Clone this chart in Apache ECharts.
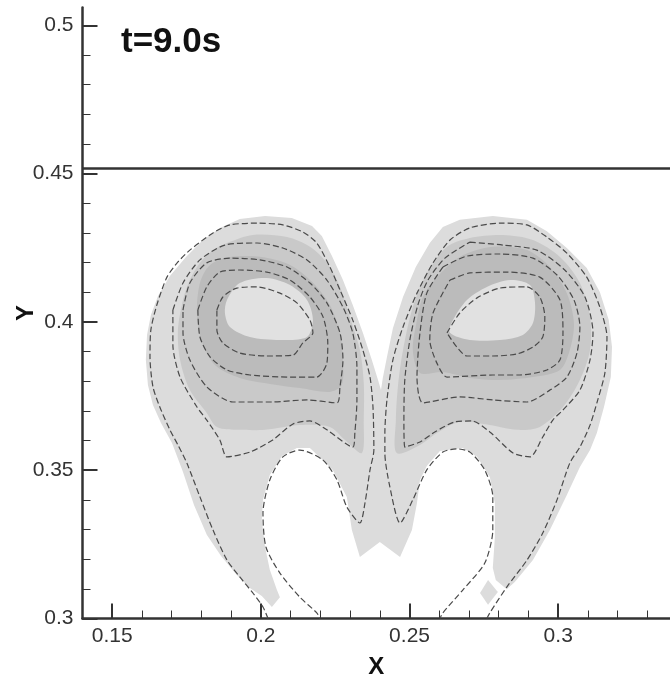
<!DOCTYPE html>
<html><head><meta charset="utf-8">
<script src="https://cdn.jsdelivr.net/npm/echarts@6/dist/echarts.min.js"></script>
<style>html,body{margin:0;padding:0;background:#fff}#c{width:670px;height:676px}</style>
</head><body><div id="c"></div>
<script>
// ---- axis ticks / labels ----
const xMajorTicks = [0.15, 0.2, 0.25, 0.3];
const xMinorTicks = [0.16,0.17,0.18,0.19,0.21,0.22,0.23,0.24,0.26,0.27,0.28,0.29,0.31,0.32,0.33];
const yMajorTicks = [0.3, 0.35, 0.4, 0.45, 0.5];
const yMinorTicks = [0.31,0.32,0.33,0.34,0.36,0.37,0.38,0.39,0.41,0.42,0.43,0.44,0.46,0.47,0.48,0.49];
const interfaceY = 0.4517;
const titleText = 't=9.0s';

// ---- filled contour regions (x, y) ----
const silhouette = [[0.2037,0.3039],[0.2003,0.3076],[0.1963,0.3103],[0.1919,0.3147],[0.1866,0.3211],[0.1818,0.3282],[0.1775,0.3383],[0.1738,0.3494],[0.1701,0.3592],[0.1664,0.3659],[0.1637,0.3720],[0.1620,0.3787],[0.1613,0.3872],[0.1617,0.3956],[0.1630,0.4023],[0.1654,0.4087],[0.1694,0.4155],[0.1748,0.4219],[0.1805,0.4276],[0.1862,0.4317],[0.1929,0.4347],[0.2014,0.4357],[0.2104,0.4350],[0.2172,0.4323],[0.2205,0.4290],[0.2239,0.4222],[0.2276,0.4141],[0.2309,0.4057],[0.2343,0.3963],[0.2373,0.3872],[0.2394,0.3804],[0.2404,0.3770],[0.2410,0.3811],[0.2424,0.3882],[0.2444,0.3979],[0.2478,0.4084],[0.2521,0.4185],[0.2568,0.4266],[0.2612,0.4320],[0.2669,0.4344],[0.2780,0.4357],[0.2895,0.4344],[0.2962,0.4306],[0.3029,0.4249],[0.3096,0.4182],[0.3140,0.4101],[0.3170,0.4006],[0.3181,0.3915],[0.3177,0.3814],[0.3154,0.3713],[0.3130,0.3625],[0.3107,0.3568],[0.3073,0.3511],[0.3029,0.3416],[0.2972,0.3298],[0.2915,0.3197],[0.2854,0.3123],[0.2827,0.3099],[0.2790,0.3130],[0.2780,0.3170],[0.2787,0.3275],[0.2787,0.3389],[0.2770,0.3477],[0.2727,0.3545],[0.2679,0.3575],[0.2602,0.3565],[0.2558,0.3514],[0.2535,0.3467],[0.2525,0.3389],[0.2508,0.3298],[0.2468,0.3207],[0.2400,0.3258],[0.2333,0.3207],[0.2306,0.3298],[0.2289,0.3410],[0.2242,0.3501],[0.2165,0.3575],[0.2121,0.3575],[0.2071,0.3548],[0.2030,0.3484],[0.2007,0.3400],[0.2003,0.3332],[0.2014,0.3241],[0.2030,0.3164],[0.2054,0.3096],[0.2064,0.3072]];
const diamond = [[0.2737,0.3086],[0.2764,0.3130],[0.2797,0.3089],[0.2764,0.3046]];
const mediumLeft = [[0.1839,0.4242],[0.1886,0.4266],[0.1973,0.4293],[0.2088,0.4286],[0.2165,0.4253],[0.2222,0.4199],[0.2266,0.4118],[0.2299,0.4017],[0.2333,0.3905],[0.2346,0.3794],[0.2346,0.3669],[0.2340,0.3558],[0.2283,0.3602],[0.2232,0.3646],[0.2131,0.3652],[0.2014,0.3636],[0.1929,0.3636],[0.1852,0.3646],[0.1818,0.3693],[0.1761,0.3770],[0.1728,0.3872],[0.1721,0.3973],[0.1738,0.4074],[0.1761,0.4141],[0.1795,0.4199]];
const mediumRight = [[0.2626,0.4253],[0.2703,0.4283],[0.2814,0.4293],[0.2915,0.4276],[0.3006,0.4219],[0.3073,0.4131],[0.3107,0.4017],[0.3107,0.3905],[0.3073,0.3804],[0.3016,0.3713],[0.2938,0.3646],[0.2861,0.3636],[0.2770,0.3652],[0.2669,0.3663],[0.2592,0.3625],[0.2535,0.3585],[0.2457,0.3558],[0.2454,0.3669],[0.2461,0.3784],[0.2478,0.3905],[0.2511,0.4050],[0.2558,0.4165]];
const darkLeft = [[0.1795,0.4131],[0.1829,0.4192],[0.1896,0.4219],[0.2003,0.4219],[0.2098,0.4192],[0.2172,0.4135],[0.2232,0.4057],[0.2266,0.3963],[0.2276,0.3872],[0.2272,0.3787],[0.2232,0.3764],[0.2131,0.3777],[0.2030,0.3791],[0.1929,0.3811],[0.1849,0.3851],[0.1805,0.3922],[0.1785,0.4023]];
const darkRight = [[0.2592,0.4151],[0.2669,0.4219],[0.2780,0.4253],[0.2895,0.4242],[0.2972,0.4185],[0.3029,0.4097],[0.3053,0.3996],[0.3039,0.3905],[0.3006,0.3838],[0.2915,0.3814],[0.2804,0.3804],[0.2703,0.3811],[0.2612,0.3831],[0.2535,0.3828],[0.2511,0.3905],[0.2525,0.4006],[0.2545,0.4084]];
const coreLeft = [[0.1886,0.4074],[0.1929,0.4131],[0.2020,0.4148],[0.2098,0.4124],[0.2155,0.4074],[0.2175,0.4006],[0.2155,0.3949],[0.2064,0.3939],[0.1963,0.3949],[0.1896,0.3983],[0.1879,0.4030]];
const coreRight = [[0.2646,0.4006],[0.2693,0.4074],[0.2760,0.4118],[0.2838,0.4141],[0.2905,0.4124],[0.2922,0.4064],[0.2915,0.3996],[0.2881,0.3956],[0.2804,0.3939],[0.2703,0.3939],[0.2636,0.3963]];

// ---- dashed contour lines (x, y) ----
const contourLeft1 = [[0.2024,0.3],[0.2007,0.3039],[0.1973,0.3086],[0.1929,0.3140],[0.1886,0.3197],[0.1839,0.3298],[0.1795,0.3410],[0.1751,0.3524],[0.1721,0.3585],[0.1694,0.3636],[0.1660,0.3713],[0.1637,0.3781],[0.1627,0.3882],[0.1630,0.3973],[0.1650,0.4057],[0.1684,0.4151],[0.1721,0.4202],[0.1761,0.4242],[0.1839,0.4300],[0.1896,0.4327],[0.1987,0.4333],[0.2074,0.4327],[0.2141,0.4303],[0.2188,0.4266],[0.2232,0.4185],[0.2266,0.4108],[0.2309,0.4006],[0.2343,0.3905],[0.2367,0.3814],[0.2377,0.3713],[0.2380,0.3568],[0.2367,0.3501],[0.2350,0.3389],[0.2333,0.3322],[0.2289,0.3376],[0.2256,0.3467],[0.2209,0.3534],[0.2131,0.3568],[0.2074,0.3545],[0.2030,0.3467],[0.2007,0.3356],[0.2017,0.3241],[0.2064,0.3153],[0.2131,0.3072],[0.2188,0.3019],[0.2199,0.3]];
const contourRight1 = [[0.2760,0.3],[0.2770,0.3019],[0.2827,0.3106],[0.2895,0.3197],[0.2948,0.3288],[0.2996,0.3400],[0.3039,0.3524],[0.3073,0.3578],[0.3107,0.3652],[0.3133,0.3737],[0.3157,0.3828],[0.3164,0.3949],[0.3140,0.4050],[0.3096,0.4151],[0.3029,0.4232],[0.2962,0.4286],[0.2895,0.4327],[0.2804,0.4333],[0.2703,0.4317],[0.2636,0.4276],[0.2579,0.4199],[0.2525,0.4097],[0.2478,0.3983],[0.2444,0.3872],[0.2424,0.3737],[0.2417,0.3625],[0.2417,0.3558],[0.2434,0.3443],[0.2468,0.3322],[0.2511,0.3400],[0.2558,0.3501],[0.2612,0.3561],[0.2659,0.3572],[0.2703,0.3561],[0.2753,0.3501],[0.2780,0.3410],[0.2780,0.3298],[0.2753,0.3187],[0.2679,0.3096],[0.2612,0.3019],[0.2602,0.3]];
const contourLeft2 = [[0.1704,0.4040],[0.1738,0.4131],[0.1795,0.4209],[0.1879,0.4259],[0.1987,0.4266],[0.2074,0.4249],[0.2155,0.4209],[0.2222,0.4141],[0.2276,0.4050],[0.2309,0.3963],[0.2323,0.3848],[0.2323,0.3737],[0.2316,0.3625],[0.2309,0.3578],[0.2222,0.3636],[0.2165,0.3666],[0.2108,0.3656],[0.2040,0.3602],[0.1963,0.3561],[0.1886,0.3545],[0.1862,0.3602],[0.1818,0.3669],[0.1785,0.3713],[0.1728,0.3814],[0.1704,0.3922]];
const contourLeft3 = [[0.1738,0.4040],[0.1761,0.4131],[0.1818,0.4199],[0.1896,0.4215],[0.1997,0.4209],[0.2088,0.4185],[0.2165,0.4131],[0.2222,0.4064],[0.2266,0.3963],[0.2276,0.3872],[0.2266,0.3781],[0.2256,0.3727],[0.2155,0.3737],[0.2040,0.3730],[0.1906,0.3730],[0.1818,0.3781],[0.1761,0.3872],[0.1738,0.3963]];
const contourLeft4 = [[0.1788,0.4040],[0.1818,0.4118],[0.1862,0.4168],[0.1929,0.4175],[0.2020,0.4168],[0.2098,0.4141],[0.2165,0.4084],[0.2209,0.4017],[0.2225,0.3929],[0.2222,0.3861],[0.2188,0.3814],[0.2098,0.3814],[0.1963,0.3821],[0.1886,0.3838],[0.1829,0.3882],[0.1795,0.3949]];
const contourLeft5 = [[0.1852,0.4040],[0.1872,0.4084],[0.1919,0.4114],[0.1987,0.4118],[0.2064,0.4097],[0.2121,0.4064],[0.2165,0.4006],[0.2175,0.3963],[0.2141,0.3929],[0.2108,0.3888],[0.2020,0.3885],[0.1929,0.3895],[0.1872,0.3929],[0.1852,0.3973]];
const contourRight2 = [[0.2703,0.4269],[0.2814,0.4259],[0.2928,0.4242],[0.3022,0.4175],[0.3090,0.4084],[0.3117,0.3963],[0.3107,0.3872],[0.3073,0.3770],[0.3016,0.3703],[0.2982,0.3669],[0.2948,0.3612],[0.2905,0.3545],[0.2848,0.3558],[0.2770,0.3629],[0.2710,0.3666],[0.2653,0.3663],[0.2585,0.3629],[0.2535,0.3595],[0.2484,0.3578],[0.2481,0.3669],[0.2484,0.3804],[0.2501,0.3939],[0.2528,0.4057],[0.2562,0.4141],[0.2619,0.4215]];
const contourRight3 = [[0.2612,0.4185],[0.2693,0.4222],[0.2804,0.4229],[0.2915,0.4215],[0.2996,0.4158],[0.3053,0.4074],[0.3073,0.3983],[0.3063,0.3895],[0.3029,0.3814],[0.2972,0.3770],[0.2895,0.3730],[0.2780,0.3737],[0.2669,0.3747],[0.2545,0.3727],[0.2525,0.3814],[0.2535,0.3963],[0.2558,0.4097]];
const contourRight4 = [[0.2636,0.4141],[0.2703,0.4165],[0.2827,0.4168],[0.2938,0.4151],[0.3006,0.4074],[0.3016,0.3963],[0.3006,0.3872],[0.2962,0.3838],[0.2871,0.3821],[0.2780,0.3821],[0.2626,0.3814],[0.2592,0.3861],[0.2568,0.3939],[0.2579,0.4030]];
const contourRight5 = [[0.2626,0.3963],[0.2669,0.4030],[0.2727,0.4081],[0.2804,0.4114],[0.2895,0.4118],[0.2938,0.4084],[0.2955,0.4017],[0.2948,0.3949],[0.2915,0.3915],[0.2861,0.3892],[0.2780,0.3885],[0.2693,0.3885],[0.2659,0.3915]];

const X_MIN = 0.14, X_MAX = 0.3376, Y_MIN = 0.3, Y_MAX = 0.506;
const COL_LIGHT = '#dcdcdc', COL_MED = '#c9c9c9', COL_DARK = '#bbbbbb', COL_CORE = '#e1e1e1';

function polySeries(points, color, z, smooth) {
  return {
    type: 'custom', coordinateSystem: 'cartesian2d', xAxisIndex: 0, yAxisIndex: 0,
    data: [[points[0][0], points[0][1]]], silent: true, z: z, clip: true,
    renderItem: function (params, api) {
      return { type: 'polygon', shape: { points: points.map(p => api.coord(p)), smooth: smooth || 0 },
               style: { fill: color, stroke: null } };
    }
  };
}
function dashSeries(points, closed) {
  const pts = closed ? points.concat([points[0]]) : points;
  return {
    type: 'line', data: pts, xAxisIndex: 0, yAxisIndex: 0, symbol: 'none', showSymbol: false,
    smooth: 0.25, silent: true, z: 6, clip: true,
    lineStyle: { color: '#4a4a4a', width: 1.2, type: [6, 3] }
  };
}

const labelFont = { fontFamily: '"Liberation Sans", Arial, sans-serif', fontSize: 21, color: '#333' };
const nameFont = { fontFamily: '"Liberation Sans", Arial, sans-serif', fontWeight: 'bold', fontSize: 24, color: '#111' };
const chart = echarts.init(document.getElementById('c'), null, { renderer: 'canvas' });
chart.setOption({
  animation: false,
  backgroundColor: '#fff',
  grid: { left: 82.5, right: 0, top: 7.5, bottom: 57.5, containLabel: false, outerBoundsMode: 'none' },
  xAxis: [
    { type: 'value', min: X_MIN, max: X_MAX, position: 'bottom',
      axisLine: { show: true, onZero: false, lineStyle: { color: '#333', width: 2.5 } },
      axisTick: { show: true, inside: true, length: 15, lineStyle: { color: '#333', width: 2 }, customValues: xMajorTicks },
      axisLabel: Object.assign({ show: true, margin: 7, customValues: xMajorTicks, formatter: v => String(v) }, labelFont),
      splitLine: { show: false },
      name: 'X', nameLocation: 'middle', nameGap: 36.5, nameMoveOverlap: false, nameTextStyle: nameFont },
    { type: 'value', min: X_MIN, max: X_MAX, position: 'bottom', offset: 0,
      axisLine: { show: false, onZero: false },
      axisTick: { show: true, inside: true, length: 8, lineStyle: { color: '#333', width: 1 }, customValues: xMinorTicks },
      axisLabel: { show: false }, splitLine: { show: false } }
  ],
  yAxis: [
    { type: 'value', min: Y_MIN, max: Y_MAX, position: 'left',
      axisLine: { show: true, onZero: false, lineStyle: { color: '#333', width: 2.5 } },
      axisTick: { show: true, inside: true, length: 15, lineStyle: { color: '#333', width: 2 }, customValues: yMajorTicks },
      axisLabel: Object.assign({ show: true, margin: 9, customValues: yMajorTicks, formatter: v => String(v) }, labelFont),
      splitLine: { show: false },
      name: 'Y', nameLocation: 'middle', nameGap: 44, nameRotate: 90, nameMoveOverlap: false, nameTextStyle: nameFont },
    { type: 'value', min: Y_MIN, max: Y_MAX, position: 'left', offset: 0,
      axisLine: { show: false, onZero: false },
      axisTick: { show: true, inside: true, length: 8, lineStyle: { color: '#333', width: 1 }, customValues: yMinorTicks },
      axisLabel: { show: false }, splitLine: { show: false } }
  ],
  graphic: [
    { type: 'text', left: 121, top: 25, z: 20,
      style: { text: titleText, font: 'bold 35px "Liberation Sans", Arial, sans-serif', fill: '#111' } }
  ],
  series: [
    polySeries(silhouette, COL_LIGHT, 1, 0),
    polySeries(diamond, COL_LIGHT, 1, 0),
    polySeries(mediumLeft, COL_MED, 2, 0.3),
    polySeries(mediumRight, COL_MED, 2, 0.3),
    polySeries(darkLeft, COL_DARK, 3, 0.3),
    polySeries(darkRight, COL_DARK, 3, 0.3),
    polySeries(coreLeft, COL_CORE, 4, 0.3),
    polySeries(coreRight, COL_CORE, 4, 0.3),
    dashSeries(contourLeft1, false), dashSeries(contourRight1, false),
    dashSeries(contourLeft2, true), dashSeries(contourLeft3, true), dashSeries(contourLeft4, true), dashSeries(contourLeft5, true),
    dashSeries(contourRight2, true), dashSeries(contourRight3, true), dashSeries(contourRight4, true), dashSeries(contourRight5, true),
    { type: 'line', data: [[X_MIN, interfaceY], [X_MAX, interfaceY]], symbol: 'none', silent: true, z: 7,
      lineStyle: { color: '#333', width: 2.5, type: 'solid' } }
  ]
});
</script></body></html>
